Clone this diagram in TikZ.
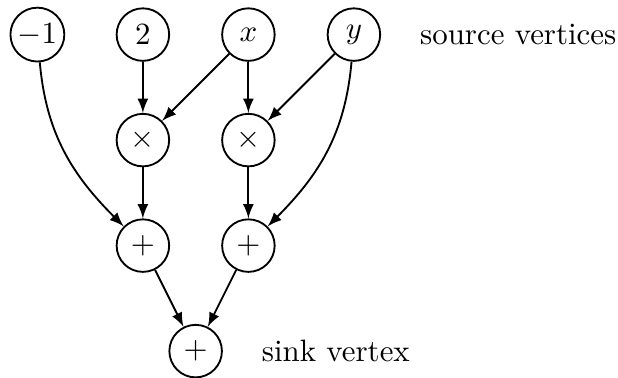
\documentclass[tikz,border=0pt]{standalone}
\usetikzlibrary{positioning}
\tikzset{
vertex/.style={
	  on grid, draw, circle, minimum size=17pt, inner sep=1pt}
}

\begin{document}
\begin{tikzpicture}[node distance=12mm and 12mm, >=latex, semithick]
	\useasboundingbox (0,0) rectangle (200pt,-122.3pt);
	\node[vertex] (m1) at (12.1pt,-11.2pt) {$-1$};
	\node[vertex, right=of m1] (two) {$2$};
	\node[vertex, right=of two] (x) {$x$};
	\node[vertex, right=of x] (y) {$y$};
	\node[vertex, below=of two] (mul1) {$\times$};
	\node[vertex, below=of x] (mul2) {$\times$};
	\node[vertex, below=of mul1] (add1) {$+$};
	\node[vertex, below=of mul2] (add2) {$+$};
	\node[vertex, below right=12mm and 6mm of add1] (sink) {$+$};
	\node[right=9pt of y] (srclabel) {source vertices};
	\node[right=9pt of sink] (sinklabel) {sink vertex};
	\draw[->] (two) -- (mul1);
	\draw[->] (x) -- (mul1);
	\draw[->] (x) -- (mul2);
	\draw[->] (y) -- (mul2);
	\draw[->] (mul1) -- (add1);
	\draw[->] (mul2) -- (add2);
	\draw[->] (m1) to[out=-85, in=135] (add1);
	\draw[->] (y) to[out=-95, in=45] (add2);
	\draw[->] (add1) -- (sink);
	\draw[->] (add2) -- (sink);
\end{tikzpicture}
\end{document}
